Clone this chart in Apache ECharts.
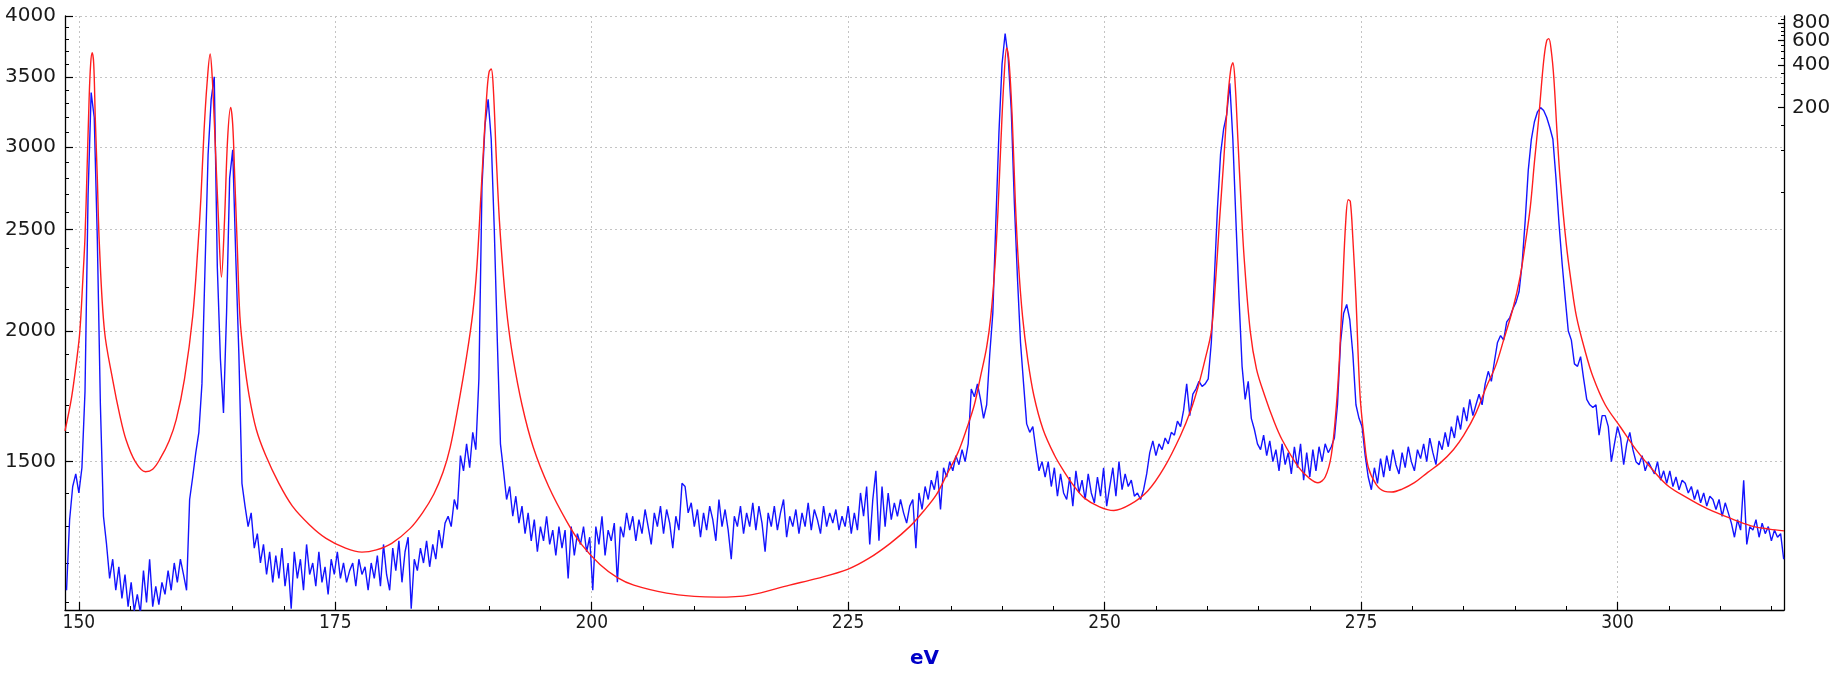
<!DOCTYPE html>
<html><head><meta charset="utf-8">
<script src="https://cdn.jsdelivr.net/npm/echarts@6/dist/echarts.min.js"></script>
<style>html,body{margin:0;padding:0;background:#fff}#c{width:1839px;height:674px}</style>
</head><body><div id="c"></div>
<script>
// measured spectrum: evenly sampled, first energy and step (eV)
const eVStart = 148.8;
const eVStep = 0.3;
const measuredCounts = [
  1130,1320,1420,1460,1400,1480,1750,2700,3380,3200,
  2450,1700,1330,1250,1160,1210,1130,1190,1110,1170,
  1090,1150,1080,1120,1075,1180,1100,1210,1090,1140,
  1095,1150,1120,1180,1130,1200,1150,1210,1170,1130,
  1380,1450,1530,1600,1780,2300,2950,3330,3500,2300,
  1880,1670,2080,2800,2980,2350,1900,1430,1360,1300,
  1340,1240,1280,1200,1250,1170,1230,1150,1220,1160,
  1240,1140,1200,1085,1230,1160,1210,1130,1250,1170,
  1200,1140,1230,1150,1190,1120,1210,1170,1230,1160,
  1200,1150,1180,1200,1140,1210,1170,1190,1130,1200,
  1160,1220,1140,1250,1170,1130,1240,1180,1260,1150,
  1230,1270,1085,1210,1180,1240,1200,1260,1190,1250,
  1210,1290,1240,1310,1330,1300,1380,1350,1520,1470,
  1560,1480,1600,1540,1800,2750,3150,3330,3050,2500,
  1950,1560,1470,1380,1420,1330,1390,1310,1360,1280,
  1340,1260,1320,1230,1300,1260,1330,1250,1290,1220,
  1300,1240,1290,1160,1300,1220,1280,1250,1300,1230,
  1270,1130,1300,1250,1330,1220,1290,1260,1310,1150,
  1300,1270,1340,1290,1330,1260,1320,1280,1350,1300,
  1250,1340,1300,1360,1280,1350,1310,1240,1330,1290,
  1430,1420,1340,1370,1300,1350,1270,1340,1290,1360,
  1320,1260,1380,1300,1350,1290,1210,1330,1300,1360,
  1280,1340,1300,1370,1290,1360,1310,1230,1340,1300,
  1360,1290,1340,1380,1270,1330,1300,1350,1280,1340,
  1300,1370,1290,1350,1320,1280,1360,1300,1340,1310,
  1350,1290,1330,1300,1360,1280,1340,1290,1400,1330,
  1420,1250,1380,1470,1260,1420,1300,1400,1320,1370,
  1330,1380,1340,1310,1360,1380,1240,1400,1350,1420,
  1380,1440,1410,1470,1350,1480,1450,1500,1470,1520,
  1490,1540,1500,1560,1760,1730,1780,1720,1650,1700,
  1900,2080,2550,3100,3600,3850,3650,3250,2650,2250,
  1950,1780,1630,1600,1620,1540,1470,1500,1450,1500,
  1420,1480,1390,1460,1400,1380,1450,1360,1470,1400,
  1440,1380,1460,1400,1370,1450,1390,1480,1360,1420,
  1480,1390,1500,1410,1460,1420,1440,1390,1400,1380,
  1410,1460,1530,1570,1520,1560,1540,1580,1560,1600,
  1590,1640,1620,1680,1780,1660,1740,1760,1790,1770,
  1780,1800,1950,2250,2620,2950,3120,3220,3450,3050,
  2550,2150,1850,1720,1790,1650,1610,1560,1540,1590,
  1520,1570,1500,1540,1470,1560,1490,1530,1460,1550,
  1480,1560,1440,1530,1450,1540,1470,1550,1500,1560,
  1530,1550,1580,1700,1950,2080,2120,2050,1900,1700,
  1650,1620,1520,1450,1410,1480,1430,1510,1450,1520,
  1470,1540,1490,1460,1530,1480,1550,1500,1470,1540,
  1510,1560,1500,1580,1530,1490,1570,1540,1600,1550,
  1620,1580,1660,1610,1690,1640,1720,1660,1700,1740,
  1700,1780,1830,1790,1870,1950,1980,1960,2040,2060,
  2100,2130,2180,2320,2550,2850,3050,3170,3240,3270,
  3250,3200,3130,3050,2800,2530,2320,2150,2000,1960,
  1860,1850,1890,1800,1720,1700,1690,1700,1590,1660,
  1660,1620,1500,1560,1620,1580,1490,1560,1600,1540,
  1500,1490,1520,1470,1500,1480,1460,1500,1440,1470,
  1430,1470,1420,1450,1410,1440,1430,1400,1420,1380,
  1410,1370,1400,1360,1390,1380,1350,1380,1330,1370,
  1340,1310,1270,1320,1290,1440,1250,1300,1290,1320,
  1270,1310,1280,1300,1260,1290,1270,1280,1210
];

// fitted curve (energy, counts)
const fitEV = [
  148.65,149.3,149.8,150.1,150.4,150.6,150.8,151.0,151.15,151.3,151.45,151.6,151.8,152.0,152.5,
  153.3,154.0,154.6,155.5,156.5,157.2,157.9,158.8,159.5,160.3,161.1,161.6,161.9,162.2,162.5,
  162.8,163.0,163.2,163.6,163.9,164.2,164.5,164.8,165.0,165.2,165.45,165.7,166.1,166.6,167.3,
  168.2,169.5,170.8,172.5,174.1,176.0,177.6,179.0,180.5,182.3,183.5,184.6,185.5,186.2,187.0,
  187.8,188.4,188.8,189.2,189.5,189.8,190.0,190.2,190.4,190.7,191.0,191.4,191.8,192.3,193.2,
  194.3,195.8,197.6,199.0,200.8,202.5,204.1,207.3,210.0,212.2,215.4,219.3,222.0,225.0,227.0,
  229.1,231.0,232.4,233.6,234.6,235.7,236.6,237.3,237.9,238.5,238.9,239.3,239.6,239.9,240.2,
  240.45,240.7,241.0,241.3,241.6,242.0,242.5,243.1,244.0,245.1,246.0,247.0,248.0,249.5,250.9,
  252.5,254.2,255.8,257.4,258.4,259.1,259.8,260.4,260.8,261.2,261.6,262.0,262.3,262.5,262.7,
  263.0,263.3,263.6,264.2,264.8,265.6,266.5,267.3,268.9,270.0,270.8,271.5,272.1,272.6,272.9,
  273.2,273.5,273.75,273.95,274.2,274.5,274.9,275.3,275.7,276.5,277.3,278.0,279.0,280.2,281.5,
  282.7,284.0,285.0,286.2,287.2,288.1,288.9,289.8,290.5,291.0,291.5,291.9,292.3,292.6,292.85,
  293.1,293.3,293.55,293.8,294.1,294.4,295.0,295.5,296.0,296.8,297.6,298.8,300.3,301.8,303.5,
  305.0,306.8,308.5,310.0,311.5,313.3,314.8,316.23
];
const fitCounts = [
  1605,1730,1880,2000,2250,2460,2850,3330,3600,3690,3600,3200,2800,2420,2000,
  1796,1660,1574,1500,1467,1475,1508,1570,1646,1800,2066,2400,2682,3100,3450,
  3680,3500,3180,2568,2252,2550,3050,3272,3150,2800,2400,2066,1880,1735,1610,
  1522,1430,1361,1305,1267,1240,1229,1235,1253,1295,1340,1396,1465,1548,1700,
  1891,2080,2300,2700,3050,3400,3540,3560,3420,2923,2550,2252,2050,1891,1700,
  1548,1420,1313,1250,1196,1162,1143,1123,1115,1113,1118,1143,1160,1184,1212,
  1253,1300,1347,1395,1457,1530,1618,1700,1809,1930,2064,2300,2600,3050,3500,
  3730,3600,3180,2650,2320,2064,1880,1735,1610,1522,1470,1422,1385,1358,1347,
  1365,1406,1480,1589,1680,1767,1880,1998,2220,2550,2900,3330,3560,3610,3480,
  3038,2650,2350,1998,1840,1735,1640,1574,1482,1445,1432,1450,1522,1700,1891,
  2200,2540,2670,2660,2450,2150,1735,1580,1482,1425,1405,1403,1412,1432,1465,
  1495,1540,1589,1670,1767,1850,1961,2100,2252,2420,2628,2900,3180,3450,3660,
  3790,3807,3700,3481,3100,2800,2424,2220,2064,1920,1809,1700,1618,1540,1470,
  1420,1385,1356,1336,1318,1300,1293,1288
];

// axis ticks
const xMajorTicks = [150,175,200,225,250,275,300];
const xMinorTicks = [155,160,165,170,180,185,190,195,205,210,215,220,230,235,240,245,255,260,265,270,280,285,290,295,305,310,315];
const yMajorTicks = [1500,2000,2500,3000,3500,4000];
const yMinorTicks = [1100,1200,1300,1400,1600,1700,1800,1900,2100,2200,2300,2400,2600,2700,2800,2900,3100,3200,3300,3400,3600,3700,3800,3900];
const rMajorTicks = [200,400,600,800];
const rLabelsA = [200,400,800];
const rLabelsB = [600];
const rMinorTicks = [50,100,150,250,300,350,450,500,550,650,700,750,850];

const measuredData = measuredCounts.map((v, i) => [+(eVStart + i * eVStep).toFixed(2), v]);
const fitData = fitEV.map((e, i) => [e, fitCounts[i]]);

const X_MIN = 148.65, X_MAX = 316.23;
const Y_MIN = 1082, Y_MAX = 4001;
const R_MIN = 0.0535, R_MAX = 895;
const fmt = v => String(Math.round(v));
const gridLine = {show: true, lineStyle: {type: [2, 3], color: '#c4c4c4', width: 1}};
const rLabelStyle = {formatter: fmt, margin: 8, hideOverlap: false, showMinLabel: true, showMaxLabel: true,
  fontFamily: "'DejaVu Sans',sans-serif", fontSize: 20, color: '#1a1a1a'};

const chart = echarts.init(document.getElementById('c'), null, {renderer: 'canvas'});
chart.setOption({
  animation: false,
  backgroundColor: '#ffffff',
  grid: {left: 65, right: 55, top: 16, bottom: 55, containLabel: false},
  xAxis: [
    {
      type: 'value', min: X_MIN, max: X_MAX, position: 'bottom',
      axisLine: {show: true, lineStyle: {color: '#000', width: 1.3}},
      axisTick: {show: true, inside: true, length: 8, customValues: xMajorTicks, lineStyle: {color: '#000', width: 1.2}},
      axisLabel: {customValues: xMajorTicks, formatter: fmt, margin: 4,
        fontFamily: "'DejaVu Sans Condensed','Liberation Sans Narrow',sans-serif", fontSize: 19, color: '#1a1a1a'},
      splitLine: gridLine,
      name: 'eV', nameLocation: 'middle', nameGap: 39,
      nameTextStyle: {color: '#0000c8', fontWeight: 'bold', fontSize: 20, fontFamily: "'DejaVu Sans',sans-serif"}
    },
    {
      type: 'value', min: X_MIN, max: X_MAX, position: 'bottom',
      axisLine: {show: false},
      axisTick: {show: true, inside: true, length: 4, customValues: xMinorTicks, lineStyle: {color: '#000', width: 1}},
      axisLabel: {show: false}, splitLine: {show: false}
    }
  ],
  yAxis: [
    {
      type: 'log', logBase: 10, min: Y_MIN, max: Y_MAX, position: 'left',
      axisLine: {show: true, lineStyle: {color: '#000', width: 1.3}},
      axisTick: {show: true, inside: true, length: 8, customValues: yMajorTicks, lineStyle: {color: '#000', width: 1.2}},
      axisLabel: {customValues: yMajorTicks, formatter: fmt, margin: 9, showMinLabel: true, showMaxLabel: true,
        fontFamily: "'DejaVu Sans',sans-serif", fontSize: 20, color: '#1a1a1a'},
      splitLine: gridLine
    },
    {
      type: 'log', logBase: 10, min: Y_MIN, max: Y_MAX, position: 'left',
      axisLine: {show: false},
      axisTick: {show: true, inside: true, length: 4, customValues: yMinorTicks, lineStyle: {color: '#000', width: 1}},
      axisLabel: {show: false}, splitLine: {show: false}
    },
    {
      type: 'log', logBase: 10, min: R_MIN, max: R_MAX, position: 'right',
      axisLine: {show: true, lineStyle: {color: '#000', width: 1.3}},
      axisTick: {show: true, inside: true, length: 6, customValues: rMajorTicks, lineStyle: {color: '#000', width: 1.2}},
      axisLabel: Object.assign({customValues: rLabelsA}, rLabelStyle),
      splitLine: {show: false}
    },
    {
      type: 'log', logBase: 10, min: R_MIN, max: R_MAX, position: 'right',
      axisLine: {show: false},
      axisTick: {show: true, inside: true, length: 3, customValues: rMinorTicks, lineStyle: {color: '#000', width: 1}},
      axisLabel: {show: false}, splitLine: {show: false}
    },
    {
      type: 'log', logBase: 10, min: R_MIN, max: R_MAX, position: 'right',
      axisLine: {show: false}, axisTick: {show: false},
      axisLabel: Object.assign({customValues: rLabelsB}, rLabelStyle),
      splitLine: {show: false}
    }
  ],
  series: [
    {
      name: 'measured', type: 'line', xAxisIndex: 0, yAxisIndex: 0,
      data: measuredData, showSymbol: false, symbol: 'none', clip: true,
      lineStyle: {color: '#1414ff', width: 1.4}, z: 2
    },
    {
      name: 'fit', type: 'line', xAxisIndex: 0, yAxisIndex: 0,
      data: fitData, showSymbol: false, symbol: 'none', smooth: 0.35, clip: true,
      lineStyle: {color: '#ff1e1e', width: 1.4}, z: 3
    }
  ]
});
</script>
</body></html>
